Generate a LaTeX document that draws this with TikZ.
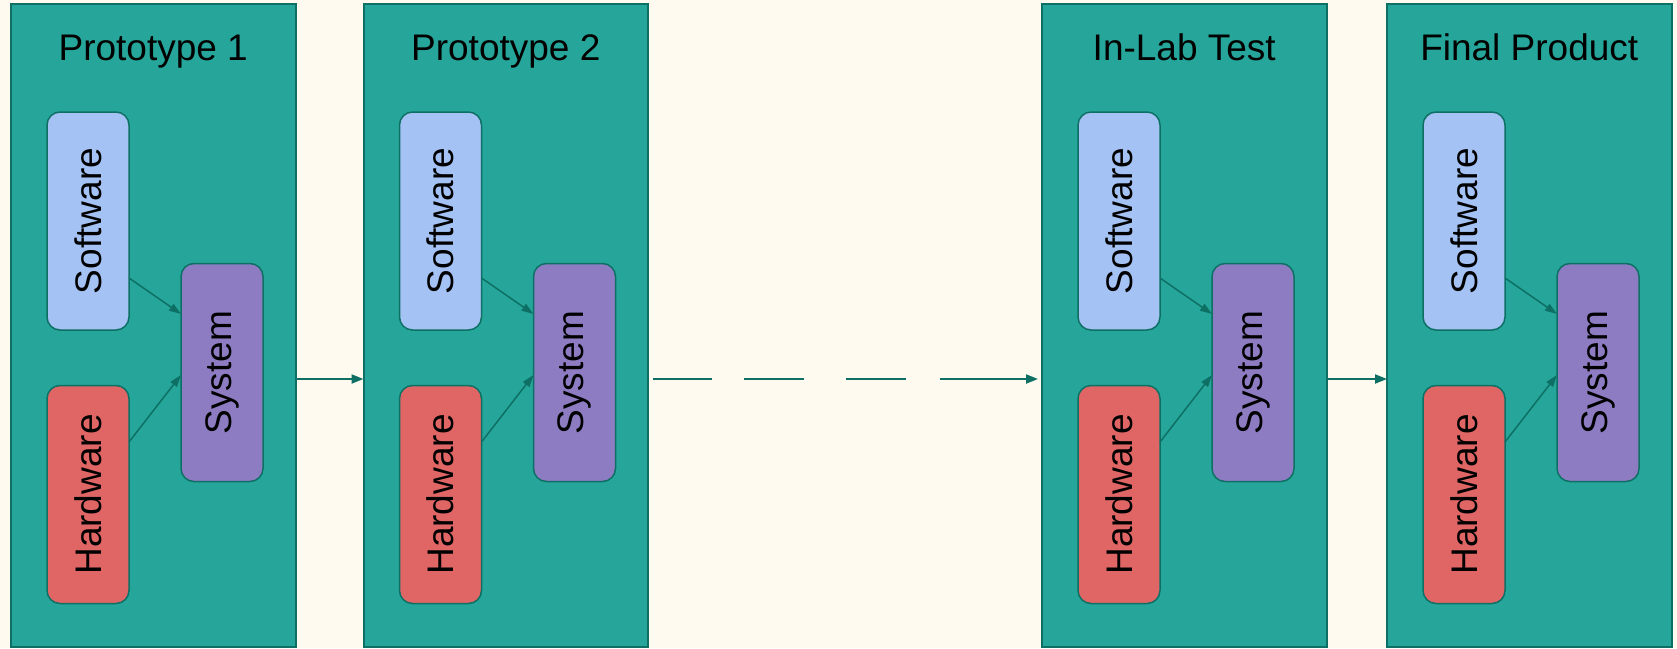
\documentclass[tikz,border=0pt]{standalone}
\usepackage{fontspec}
\setmainfont{Liberation Sans}
\usepackage{graphicx}
\usetikzlibrary{arrows.meta,calc}
\definecolor{bgcream}{HTML}{FFFAF0}
\definecolor{panelfill}{HTML}{26A69A}
\definecolor{darkteal}{HTML}{0E7064}
\definecolor{swfill}{HTML}{A4C2F4}
\definecolor{hwfill}{HTML}{E06666}
\definecolor{sysfill}{HTML}{8E7CC3}
\tikzset{
  x=1pt, y=-1pt,
  panelbox/.style={draw=darkteal, fill=panelfill, line width=2pt, minimum width=284.5pt, minimum height=643pt, inner sep=0pt, outer sep=0pt},
  titletext/.style={font=\fontsize{37}{44}\selectfont, text=black, inner sep=0pt},
  innerbox/.style={draw=darkteal, line width=1.5pt, rounded corners=13pt, minimum width=82pt, minimum height=218pt, inner sep=0pt, outer sep=0pt, font=\fontsize{37}{44}\selectfont},
  swbox/.style={innerbox, fill=swfill},
  hwbox/.style={innerbox, fill=hwfill},
  sysbox/.style={innerbox, fill=sysfill},
  arr/.style={draw=darkteal, line width=1.5pt, -{Triangle[length=12pt,width=8pt]}},
  bigarr/.style={draw=darkteal, line width=2pt, -{Triangle[length=12pt,width=9pt]}},
}
\newcommand\mkpanel[3]{%
  \node[panelbox, anchor=north west] (#1) at (#2,4) {};
  \node[titletext, anchor=base] (#1t) at (#2+142.25,60) {#3};
  \node[swbox] (#1sw) at (#2+77,221) {\rotatebox{90}{Software}};
  \node[hwbox] (#1hw) at (#2+77,494.5) {\rotatebox{90}{Hardware}};
  \node[sysbox] (#1sys) at (#2+211,372.5) {\rotatebox{90}{System}};
  \draw[arr] ([yshift=-57pt]#1sw.east) -- ([yshift=58.5pt]#1sys.west);
  \draw[arr] ([yshift=52.5pt]#1hw.east) -- ([yshift=-2.5pt]#1sys.west);
}
\begin{document}
\begin{tikzpicture}
  \fill[bgcream] (0,0) rectangle (1677,648);
  \useasboundingbox (0,0) rectangle (1677,648);
  \mkpanel{pa}{11}{Prototype 1}
  \mkpanel{pb}{363.5}{Prototype 2}
  \mkpanel{pc}{1042}{In-Lab Test}
  \mkpanel{pd}{1387}{Final Product}
  \draw[bigarr] ([yshift=-53.5pt]pa.east) -- ([yshift=-53.5pt]pb.west);
  \draw[bigarr, dash pattern={on 0pt off 5pt on 59pt off 32pt on 60pt off 42pt on 60pt off 34pt on 400pt}, shorten >=4pt] ([yshift=-53.5pt]pb.east) -- ([yshift=-53.5pt]pc.west);
  \draw[bigarr] ([yshift=-53.5pt]pc.east) -- ([yshift=-53.5pt]pd.west);
\end{tikzpicture}
\end{document}
